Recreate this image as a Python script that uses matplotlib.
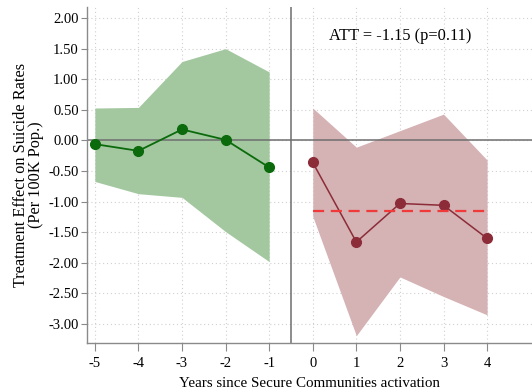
import matplotlib
matplotlib.use("Agg")
import matplotlib.pyplot as plt

# Pre-period (placebo) estimates
pre_years = [-5, -4, -3, -2, -1]
pre_est = [-0.06, -0.17, 0.18, 0.01, -0.44]
pre_hi = [0.53, 0.54, 1.29, 1.50, 1.12]
pre_lo = [-0.67, -0.87, -0.93, -1.49, -1.98]

# Post-period estimates
post_years = [0, 1, 2, 3, 4]
post_est = [-0.36, -1.66, -1.03, -1.06, -1.60]
post_hi = [0.53, -0.11, 0.16, 0.43, -0.32]
post_lo = [-1.24, -3.19, -2.23, -2.55, -2.85]

att = -1.15
att_p = 0.11

x_ticks = [-5, -4, -3, -2, -1, 0, 1, 2, 3, 4]
y_ticks = [2.0, 1.5, 1.0, 0.5, 0.0, -0.5, -1.0, -1.5, -2.0, -2.5, -3.0]

plt.rcParams["font.family"] = ["Liberation Serif", "DejaVu Serif"]

fig = plt.figure(figsize=(5.32, 3.92), dpi=100)
ax = fig.add_axes([0.1635, 0.125, 0.8365, 0.857])

ax.fill_between(pre_years, pre_lo, pre_hi, color="#a3c8a0", lw=0, zorder=1)
ax.fill_between(post_years, post_lo, post_hi, color="#d5b2b4", lw=0, zorder=1)

ax.axhline(0, color="#6e6e6e", lw=1.1, zorder=2)
ax.axvline(-0.5, color="#6e6e6e", lw=1.1, zorder=2)

ax.plot(pre_years, pre_est, color="#0b6a0b", lw=1.3, marker="o", ms=7, zorder=3)
ax.plot(post_years, post_est, color="#8c2c38", lw=1.1, marker="o", ms=7, zorder=3)
ax.plot([post_years[0], post_years[-1]], [att, att], color="#f03a3a", lw=1.6,
        ls=(0, (5, 3)), zorder=4)

ax.text(2.0, 1.70, f"ATT = {att:.2f} (p={att_p:.2f})", ha="center", va="center",
        fontsize=11.8)

ax.set_xlim(-5.18, 5.03)
ax.set_ylim(-3.31, 2.18)
ax.set_xticks(x_ticks)
ax.set_xticklabels([str(v) for v in x_ticks])
ax.set_yticks(y_ticks)
ax.set_yticklabels([f"{v:.2f}" for v in y_ticks])
ax.grid(True, color="#d0d0d0", ls=(0, (1, 2.5)), lw=0.8, zorder=0)
ax.set_axisbelow(True)

for s in ["top", "right"]:
    ax.spines[s].set_visible(False)
for s in ["left", "bottom"]:
    ax.spines[s].set_color("#8a8a8a")
    ax.spines[s].set_linewidth(1.0)
ax.tick_params(axis="both", colors="#8a8a8a", labelcolor="black", labelsize=10.5,
               width=0.8, direction="out")
ax.tick_params(axis="x", length=6, pad=4)
ax.tick_params(axis="y", length=4, pad=2)

ax.set_xlabel("Years since Secure Communities activation", fontsize=10.8, labelpad=5)
ax.set_ylabel("Treatment Effect on Suicide Rates\n(Per 100K Pop.)", fontsize=11.7,
              labelpad=3, linespacing=0.95)

fig.savefig("out.png", dpi=100)
